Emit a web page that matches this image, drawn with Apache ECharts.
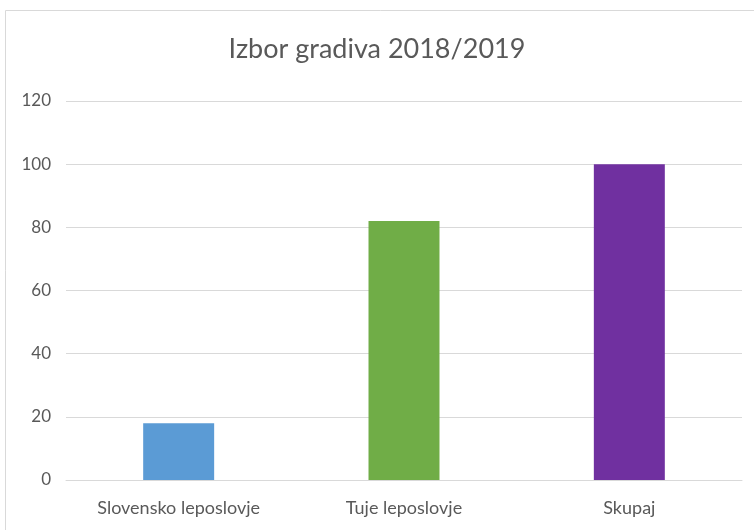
<!DOCTYPE html>
<html><head><meta charset="utf-8">
<script src="https://cdn.jsdelivr.net/npm/echarts@6/dist/echarts.min.js"></script>
<style>html,body{margin:0;padding:0;background:#fff}#c{width:754px;height:530px}</style>
</head><body><div id="c"></div>
<script>
const title = "Izbor gradiva 2018/2019";
const categories = ["Slovensko leposlovje", "Tuje leposlovje", "Skupaj"];
const values = [18, 82, 100];
const barColors = ["#5B9BD5", "#70AD47", "#7030A0"];
const yTicks = {min: 0, max: 120, interval: 20};
const font = "Lato, 'Open Sans', sans-serif";
const chart = echarts.init(document.getElementById('c'));
chart.setOption({
  animation: false,
  graphic: [{type: 'rect', shape: {x: 5.5, y: 10.5, width: 760, height: 560}, style: {fill: 'none', stroke: '#d9d9d9', lineWidth: 1}, silent: true}],
  title: {text: title, left: 'center', top: 31, textStyle: {fontFamily: font, fontSize: 27, fontWeight: 'normal', color: '#595959'}},
  grid: {left: 66, right: 12, top: 101, bottom: 50, containLabel: false},
  xAxis: {type: 'category', data: categories,
    axisLine: {show: true, lineStyle: {color: '#d9d9d9'}}, axisTick: {show: false},
    axisLabel: {fontFamily: font, fontSize: 18, color: '#595959', margin: 19}},
  yAxis: {type: 'value', min: yTicks.min, max: yTicks.max, interval: yTicks.interval,
    axisLine: {show: false}, axisTick: {show: false},
    splitLine: {lineStyle: {color: '#d9d9d9'}},
    axisLabel: {fontFamily: font, fontSize: 17, color: '#595959', margin: 15}},
  series: [{type: 'bar', barWidth: '31.5%', barCategoryGap: '0%',
    data: values.map((v, i) => ({value: v, itemStyle: {color: barColors[i]}}))}]
});
</script></body></html>
